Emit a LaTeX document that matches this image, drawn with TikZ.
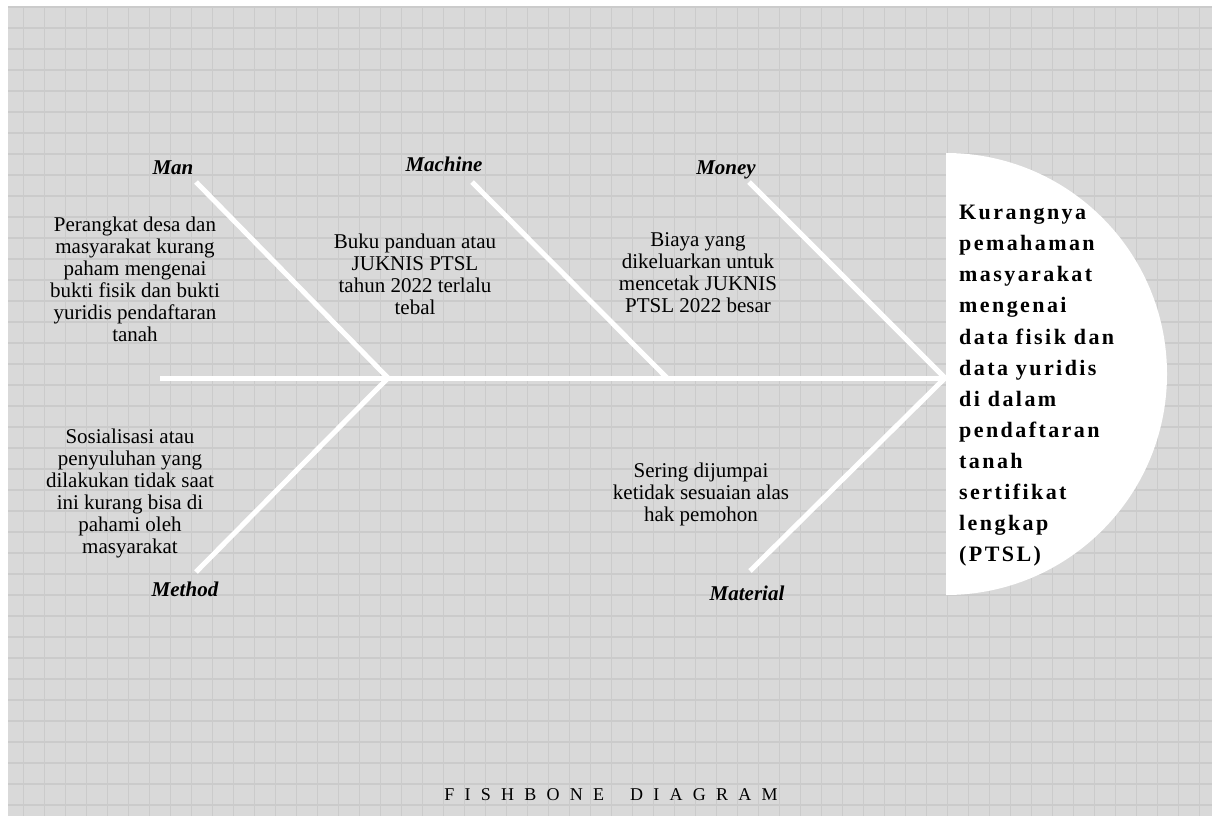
\documentclass[tikz,border=0pt]{standalone}
\usepackage{fontspec}
\setmainfont{Liberation Serif}
\newfontfamily\headfont[LetterSpace=11]{Liberation Serif}
\newfontfamily\titlefont[LetterSpace=57]{Liberation Serif}
\usetikzlibrary{positioning}
\definecolor{paper}{HTML}{D9D9D9}
\definecolor{gridc}{HTML}{CBCBCB}

\begin{document}
\begin{tikzpicture}[x=1pt, y=1pt,
    bone/.style={white, line width=5pt},
    cause/.style={align=center, inner sep=0pt, font=\fontsize{21}{22}\selectfont},
    category/.style={inner sep=0pt, font=\fontsize{21}{22}\selectfont\bfseries\itshape}]
    \useasboundingbox (0,0) rectangle (1214,-816);
    \fill[paper] (8,-7) rectangle (1212,-816);
    \foreach \i in {0,...,56} \draw[gridc, line width=1.5pt] (23.5+21*\i,-7) -- (23.5+21*\i,-816);
    \foreach \j in {0,...,38} \draw[gridc, line width=1.5pt] (8,-7-21*\j) -- (1212,-7-21*\j);

    \fill[white] (946,-153) arc[start angle=90, end angle=-90, radius=221] -- cycle;

    \coordinate (tail) at (160,-378);
    \coordinate (head) at (945,-378);
    \coordinate (j1) at (388,-378);
    \coordinate (j2) at (667,-378);
    \coordinate (manEnd) at (196,-182);
    \coordinate (machineEnd) at (472,-182);
    \coordinate (moneyEnd) at (749,-182);
    \coordinate (methodEnd) at (196,-572);
    \coordinate (materialEnd) at (750,-571);

    \draw[bone] (tail) -- (head);
    \draw[bone] (manEnd) -- (j1) -- (methodEnd);
    \draw[bone] (machineEnd) -- (j2);
    \draw[bone] (moneyEnd) -- (head) -- (materialEnd);

    \node[category] (man) at (173,-168) {Man};
    \node[category] (machine) at (444,-164) {Machine};
    \node[category] (money) at (726,-170) {Money};
    \node[category] (method) at (185,-589) {Method};
    \node[category] (material) at (747,-593) {Material};

    \node[cause] (c1) at (135,-279.5) {Perangkat desa dan\\masyarakat kurang\\paham mengenai\\bukti fisik dan bukti\\yuridis pendaftaran\\tanah};
    \node[cause] (c2) at (415,-274.7) {Buku panduan atau\\JUKNIS PTSL\\tahun 2022 terlalu\\tebal};
    \node[cause] (c3) at (698,-272.7) {Biaya yang\\dikeluarkan untuk\\mencetak JUKNIS\\PTSL 2022 besar};
    \node[cause] (c4) at (130,-493) {Sosialisasi atau\\penyuluhan yang\\dilakukan tidak saat\\ini kurang bisa di\\pahami oleh\\masyarakat};
    \node[cause] (c5) at (701,-494) {Sering dijumpai\\ketidak sesuaian alas\\hak pemohon};

    \node[anchor=north west, align=left, inner sep=0pt, font=\headfont\fontsize{22}{31.1}\selectfont\bfseries] (problem) at (959,-205)
        {Kurangnya\\pemahaman\\masyarakat\\mengenai\\data fisik dan\\data yuridis\\di dalam\\pendaftaran\\tanah\\sertifikat\\lengkap\\(PTSL)};

    \node[inner sep=0pt, font=\titlefont\fontsize{18}{20}\selectfont] (title) at (611,-795) {FISHBONE\hspace{11pt} DIAGRAM};
\end{tikzpicture}
\end{document}
